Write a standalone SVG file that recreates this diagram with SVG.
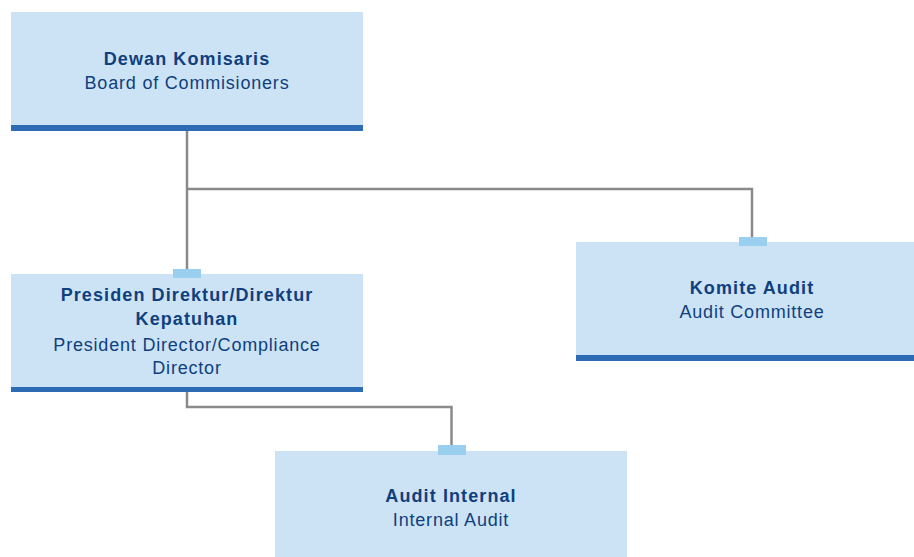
<svg xmlns="http://www.w3.org/2000/svg" width="914" height="557" viewBox="0 0 914 557">
  <style>
    .box { fill: #CCE3F5; }
    .bar { fill: #2E6BB5; }
    .tab { fill: #9BCFEF; }
    .link { fill: none; stroke: #8A8A8C; stroke-width: 2.5; }
    text { font-family: "Liberation Sans", Arial, sans-serif; font-size: 18px; fill: #0F3F7E; text-anchor: middle; letter-spacing: 0.8px; }
    .t { font-weight: bold; letter-spacing: 1.1px; }
  </style>

  <!-- connectors -->
  <g id="connectors">
    <path class="link" d="M187,131 V270"/>
    <path class="link" d="M187,189 H752 V238"/>
    <path class="link" d="M187,392 V407 H451.5 V446"/>
  </g>

  <g id="dewan-komisaris">
    <rect class="box" x="11" y="12" width="352" height="114"/>
    <rect class="bar" x="11" y="125" width="352" height="6"/>
    <text class="t" x="187" y="64.5">Dewan Komisaris</text>
    <text x="187" y="89">Board of Commisioners</text>
  </g>

  <g id="presiden-direktur">
    <rect class="box" x="11" y="274" width="352" height="113"/>
    <rect class="bar" x="11" y="387" width="352" height="5"/>
    <rect class="tab" x="173" y="269" width="28" height="9"/>
    <text class="t" x="187" y="301">Presiden Direktur/Direktur</text>
    <text class="t" x="187" y="325">Kepatuhan</text>
    <text x="187" y="350.5">President Director/Compliance</text>
    <text x="187" y="374">Director</text>
  </g>

  <g id="komite-audit">
    <rect class="box" x="576" y="242" width="352" height="114"/>
    <rect class="bar" x="576" y="355" width="352" height="6"/>
    <rect class="tab" x="739" y="237" width="28" height="9"/>
    <text class="t" x="752" y="294">Komite Audit</text>
    <text x="752" y="318">Audit Committee</text>
  </g>

  <g id="audit-internal">
    <rect class="box" x="275" y="451" width="352" height="110"/>
    <rect class="tab" x="438" y="445" width="28" height="10"/>
    <text class="t" x="451" y="502">Audit Internal</text>
    <text x="451" y="526">Internal Audit</text>
  </g>
</svg>
